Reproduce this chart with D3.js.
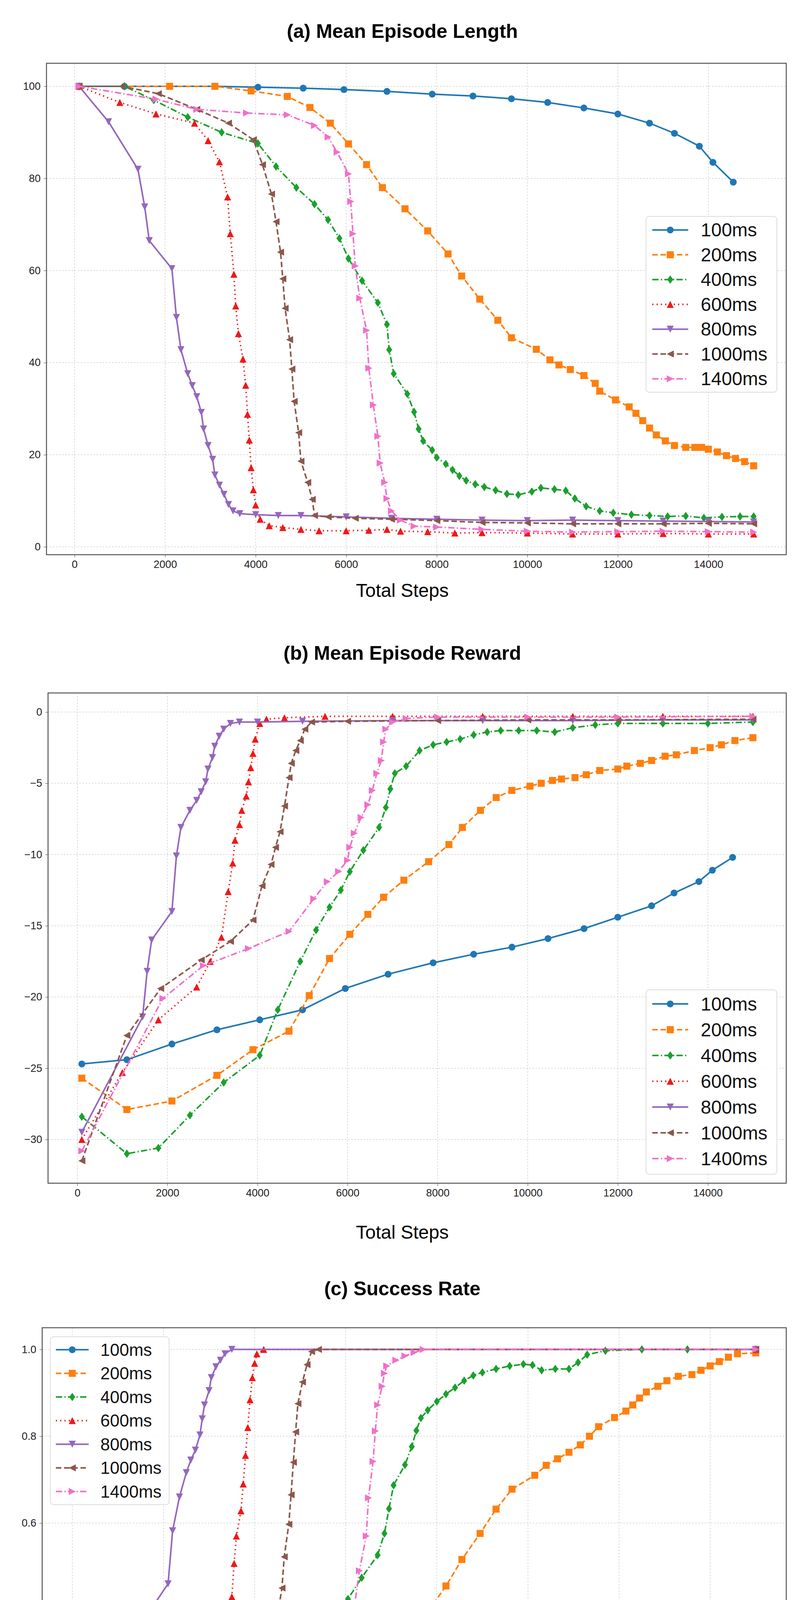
<!DOCTYPE html>
<html>
<head>
<meta charset="utf-8">
<script src="https://cdn.jsdelivr.net/npm/d3@7"></script>
<style>
  body { margin: 0; background: #fff; }
  text { font-family: "Liberation Sans", Arial, sans-serif; }
</style>
</head>
<body>
<svg id="chart" width="2061" height="4815"></svg>
<script>
// series names and styles (matplotlib-like)
var seriesNames = ["100ms", "200ms", "400ms", "600ms", "800ms", "1000ms", "1400ms"];
var seriesColors = ["#1f77b4", "#ff7f0e", "#1aa02c", "#f01818", "#9467bd", "#8c564b", "#f070c8"];
var seriesDash = [null, "14,7", "16,6,3,6", "3,8", null, "14,7", "16,6,3,6"];
var seriesMarker = ["circle", "square", "diamond", "triUp", "triDown", "triLeft", "triRight"];

// (a) Mean Episode Length  [step, value]
var len100 = [[100,100],[1100,100],[2100,100],[3100,100],[4050,99.8],[5050,99.6],[5950,99.3],[6900,98.9],[7900,98.3],[8800,97.9],[9650,97.3],[10450,96.5],[11250,95.3],[12000,94],[12700,92],[13250,89.8],[13800,87],[14100,83.5],[14550,79.2]];
var len200 = [[100,100],[2100,100],[3100,100],[3900,99],[4700,97.8],[5200,95.4],[5650,92],[6050,87.5],[6450,83],[6800,78],[7300,73.4],[7800,68.6],[8250,63.6],[8550,58.8],[8950,53.8],[9350,49.2],[9650,45.4],[10200,42.9],[10500,40.6],[10700,39.5],[10950,38.5],[11250,37.2],[11500,35.5],[11600,33.8],[11950,31.9],[12250,30.4],[12400,29],[12550,27.4],[12700,25.8],[12850,24.3],[13050,23],[13250,22],[13500,21.6],[13700,21.6],[13850,21.6],[14000,21.2],[14200,20.6],[14400,19.8],[14600,19.2],[14800,18.5],[15000,17.6]];
var len400 = [[100,100],[1100,100],[1750,97],[2500,93.3],[3250,90],[4050,87.6],[4450,82.6],[4900,78],[5300,74.4],[5600,71],[5850,67],[6050,62.6],[6350,57.8],[6700,53],[6900,48.3],[6950,42.8],[7050,37.6],[7350,33.2],[7500,29.3],[7600,25.6],[7700,23],[7900,21],[8000,19.4],[8200,18],[8350,16.7],[8500,15.4],[8650,14.4],[8850,13.6],[9050,13],[9300,12.3],[9550,11.5],[9800,11.3],[10100,12],[10300,12.8],[10600,12.5],[10850,12.2],[11050,10.5],[11300,8.8],[11600,7.8],[11900,7.4],[12300,7.0],[12700,6.8],[13100,6.6],[13500,6.7],[13900,6.3],[14300,6.5],[14700,6.6],[15000,6.6]];
var len600 = [[100,100],[1000,96.5],[1800,94],[2650,92],[2950,88.2],[3200,83.6],[3380,76],[3440,68],[3520,59.2],[3560,52.3],[3620,46.3],[3720,40.8],[3780,35.1],[3820,28.8],[3860,23.2],[3900,17.2],[3950,12.4],[4000,9.1],[4100,6],[4300,4.6],[4600,4.2],[5000,3.8],[5400,3.5],[6000,3.5],[6500,3.6],[6900,3.8],[7200,3.4],[7800,3.3],[8400,3.0],[9000,3.1],[10000,3.0],[11000,2.8],[12000,2.8],[13000,2.9],[14000,2.8],[15000,2.8]];
var len800 = [[100,100],[750,92.3],[1400,82],[1550,73.8],[1650,66.5],[2150,60.4],[2250,49.8],[2350,42.8],[2500,37.6],[2600,35],[2700,32.6],[2800,29.2],[2850,25.6],[2950,22],[3050,19],[3100,15.6],[3200,13.4],[3300,11.4],[3400,9.2],[3500,7.8],[3650,7.2],[4000,7],[4500,6.8],[5000,6.8],[6000,6.5],[7000,6.2],[8000,6],[9000,5.8],[10000,5.7],[11000,5.8],[12000,5.7],[13000,5.6],[14000,5.5],[15000,5.4]];
var len1000 = [[100,100],[1050,100],[1850,98.4],[2700,95],[3400,92],[3950,88.4],[4150,83],[4350,76.6],[4450,70.6],[4550,64],[4600,58.2],[4650,51.8],[4750,45],[4800,38.6],[4850,31.6],[4950,24.8],[5000,18.6],[5150,14],[5250,10.3],[5300,6.8],[5600,6.5],[6200,6.2],[7000,6.0],[8000,5.7],[9000,5.3],[10000,5.2],[11000,5.0],[12000,5.0],[13000,5.0],[14000,5.1],[15000,5.0]];
var len1400 = [[100,100],[1800,97.2],[2700,95],[3800,94.2],[4700,93.8],[5300,91.5],[5600,89],[5800,85.7],[6050,81],[6100,75],[6150,68],[6200,61],[6300,54],[6450,47],[6500,38.8],[6600,30.8],[6700,24],[6750,18.2],[6850,14],[6900,10.5],[7000,7.8],[7200,5.8],[7500,4.5],[8000,4.3],[9000,3.8],[10000,3.4],[11000,3.2],[12000,3.3],[13000,3.4],[14000,3.3],[15000,3.2]];

// (b) Mean Episode Reward
var rew100 = [[100,-24.7],[1100,-24.4],[2100,-23.3],[3100,-22.3],[4050,-21.6],[5000,-20.9],[5950,-19.4],[6900,-18.4],[7900,-17.6],[8800,-17],[9650,-16.5],[10450,-15.9],[11250,-15.2],[12000,-14.4],[12750,-13.6],[13250,-12.7],[13800,-11.9],[14100,-11.1],[14550,-10.2]];
var rew200 = [[100,-25.7],[1100,-27.9],[2100,-27.3],[3100,-25.5],[3900,-23.7],[4700,-22.4],[5150,-19.9],[5600,-17.3],[6050,-15.6],[6450,-14.2],[6800,-13],[7250,-11.8],[7800,-10.5],[8250,-9.3],[8550,-8.1],[8950,-6.9],[9300,-6],[9650,-5.5],[10050,-5.2],[10300,-5],[10550,-4.8],[10750,-4.7],[11050,-4.6],[11300,-4.4],[11600,-4.1],[12000,-4],[12200,-3.8],[12500,-3.6],[12750,-3.4],[13050,-3.1],[13300,-3.0],[13700,-2.7],[14050,-2.5],[14300,-2.3],[14600,-2.0],[15000,-1.8]];
var rew400 = [[100,-28.4],[1100,-31],[1800,-30.6],[2500,-28.3],[3250,-26],[4050,-24.1],[4450,-20.9],[4950,-17.5],[5300,-15.3],[5600,-13.7],[5850,-12.5],[6050,-11.2],[6350,-9.7],[6700,-8.1],[6850,-6.7],[6950,-5.4],[7050,-4.3],[7300,-3.8],[7600,-2.7],[7900,-2.3],[8200,-2.1],[8500,-1.9],[8800,-1.6],[9100,-1.4],[9400,-1.3],[9800,-1.3],[10200,-1.3],[10600,-1.4],[11000,-1.1],[11500,-0.9],[12000,-0.8],[13000,-0.8],[14000,-0.8],[15000,-0.7]];
var rew600 = [[100,-30],[1000,-25.3],[1800,-21.6],[2650,-19.3],[2950,-17.5],[3200,-15.8],[3350,-12.6],[3450,-10.6],[3500,-9],[3600,-7.9],[3650,-6.9],[3750,-5.9],[3800,-4.9],[3850,-3.9],[3900,-2.9],[3950,-1.9],[4050,-0.8],[4200,-0.5],[4600,-0.4],[5500,-0.3],[7000,-0.3],[9000,-0.3],[11000,-0.3],[13000,-0.3],[15000,-0.3]];
var rew800 = [[100,-29.5],[1450,-21.4],[1550,-18.2],[1650,-16],[2100,-14],[2200,-10.1],[2300,-8.1],[2500,-6.9],[2650,-6.2],[2750,-5.6],[2850,-4.9],[2900,-4],[3000,-3.2],[3050,-2.4],[3150,-1.7],[3250,-1.2],[3400,-0.8],[3600,-0.7],[4000,-0.7],[5000,-0.65],[7000,-0.6],[9000,-0.6],[11000,-0.6],[13000,-0.55],[15000,-0.55]];
var rew1000 = [[100,-31.5],[1100,-22.7],[1850,-19.4],[2750,-17.4],[3400,-16.1],[3900,-14.6],[4100,-12.2],[4300,-10.7],[4400,-9.5],[4500,-8.4],[4600,-6.6],[4700,-4.6],[4750,-3.6],[4850,-2.7],[4950,-2],[5050,-1.2],[5200,-0.7],[6000,-0.65],[8000,-0.6],[10000,-0.55],[12000,-0.55],[15000,-0.5]];
var rew1400 = [[100,-30.8],[1900,-20.1],[2800,-17.8],[3800,-16.6],[4700,-15.4],[5250,-13.1],[5550,-11.9],[5800,-11.2],[6000,-10.4],[6050,-9.5],[6150,-8.5],[6300,-7.4],[6450,-6.5],[6550,-5.5],[6650,-4.3],[6750,-3.4],[6800,-2.1],[6850,-1.2],[7000,-0.7],[7300,-0.45],[8000,-0.35],[10000,-0.35],[12000,-0.35],[15000,-0.3]];

// (c) Success Rate
var suc100 = [[100,0],[1100,0],[2100,0],[3100,0],[4050,0.005],[5000,0.011],[5950,0.021],[6900,0.033],[7900,0.046],[8800,0.057],[9650,0.065],[10450,0.082],[11250,0.104],[12000,0.134],[12700,0.174],[13250,0.217],[13800,0.263],[14100,0.316],[14550,0.375]];
var suc200 = [[100,0],[1100,0],[2100,0],[3100,0],[3900,0.015],[4700,0.03],[5200,0.062],[5600,0.106],[6000,0.164],[6450,0.22],[6800,0.282],[7250,0.34],[7800,0.395],[8200,0.455],[8550,0.516],[8950,0.576],[9300,0.632],[9650,0.678],[10150,0.71],[10400,0.733],[10650,0.748],[10900,0.763],[11150,0.78],[11350,0.8],[11550,0.822],[11900,0.843],[12150,0.858],[12300,0.872],[12450,0.888],[12600,0.902],[12850,0.915],[13050,0.928],[13300,0.938],[13600,0.942],[13800,0.952],[14000,0.962],[14200,0.972],[14400,0.982],[14600,0.99],[15000,0.992]];
var suc400 = [[100,0],[1100,0],[1750,0.036],[2500,0.083],[3250,0.121],[4050,0.148],[4450,0.205],[4900,0.258],[5250,0.297],[5550,0.333],[5800,0.376],[6050,0.425],[6350,0.474],[6700,0.526],[6850,0.576],[6950,0.633],[7050,0.687],[7300,0.734],[7450,0.776],[7550,0.813],[7650,0.842],[7800,0.86],[8000,0.88],[8200,0.897],[8400,0.912],[8600,0.928],[8800,0.94],[9000,0.947],[9300,0.955],[9600,0.962],[9900,0.966],[10100,0.964],[10300,0.952],[10600,0.955],[10900,0.955],[11100,0.97],[11300,0.988],[11700,0.997],[12500,1.0],[13500,1.0],[15000,1.0]];
var suc600 = [[100,0],[1000,0.039],[1800,0.064],[2600,0.085],[2950,0.124],[3200,0.173],[3350,0.253],[3450,0.338],[3500,0.43],[3550,0.507],[3600,0.57],[3700,0.628],[3750,0.69],[3800,0.756],[3850,0.82],[3900,0.884],[3950,0.935],[4000,0.968],[4050,0.99],[4200,1.0],[15000,1.0]];
var suc800 = [[100,0],[750,0.095],[1400,0.215],[1500,0.31],[1650,0.39],[2100,0.46],[2200,0.582],[2350,0.66],[2500,0.716],[2600,0.745],[2700,0.768],[2800,0.803],[2850,0.84],[2900,0.872],[3000,0.905],[3050,0.935],[3150,0.96],[3250,0.975],[3350,0.99],[3500,1.0],[15000,1.0]];
var suc1000 = [[100,0],[1100,0],[1850,0.017],[2700,0.06],[3400,0.086],[3900,0.122],[4100,0.18],[4300,0.25],[4400,0.315],[4500,0.386],[4600,0.45],[4650,0.522],[4750,0.597],[4800,0.665],[4850,0.74],[4900,0.81],[4950,0.875],[5050,0.925],[5150,0.965],[5250,0.995],[5400,1.0],[15000,1.0]];
var suc1400 = [[100,0],[1800,0.03],[2800,0.053],[3800,0.061],[4700,0.064],[5300,0.089],[5600,0.118],[5850,0.152],[6050,0.2],[6100,0.267],[6150,0.34],[6200,0.415],[6300,0.49],[6450,0.57],[6500,0.658],[6600,0.742],[6650,0.812],[6700,0.872],[6800,0.915],[6850,0.945],[6900,0.962],[7100,0.975],[7300,0.985],[7500,0.993],[7700,1.0],[15000,1.0]];

var xTicks = [0, 2000, 4000, 6000, 8000, 10000, 12000, 14000];
var lenTicks = [0, 20, 40, 60, 80, 100];
var rewTicks = [0, -5, -10, -15, -20, -25, -30];
var sucTicks = [0, 0.2, 0.4, 0.6, 0.8, 1.0];

var svg = d3.select("#chart");

function markerPath(type, s) {
  var h = s / 2;
  switch (type) {
    case "circle": return d3.symbol(d3.symbolCircle, s * s * 0.75)();
    case "square": return "M" + (-h) + "," + (-h) + "h" + s + "v" + s + "h" + (-s) + "Z";
    case "diamond": return "M0," + (-h * 1.2) + "L" + (h * 0.85) + ",0L0," + (h * 1.2) + "L" + (-h * 0.85) + ",0Z";
    case "triUp": return "M0," + (-h) + "L" + h + "," + h + "L" + (-h) + "," + h + "Z";
    case "triDown": return "M0," + h + "L" + h + "," + (-h) + "L" + (-h) + "," + (-h) + "Z";
    case "triLeft": return "M" + (-h) + ",0L" + h + "," + (-h) + "L" + h + "," + h + "Z";
    case "triRight": return "M" + h + ",0L" + (-h) + "," + (-h) + "L" + (-h) + "," + h + "Z";
  }
}

function drawPanel(cfg) {
  var x = d3.scaleLinear().domain(cfg.xDomain).range([cfg.left, cfg.right]);
  var y = d3.scaleLinear().domain(cfg.yDomain).range([cfg.bottom, cfg.top]);
  var g = svg.append("g");

  g.append("text").attr("x", 1030).attr("y", cfg.titleY)
    .attr("text-anchor", "middle").attr("dominant-baseline", "middle")
    .attr("font-size", 50).attr("font-weight", "bold").text(cfg.title);

  // grid
  g.selectAll(".gx").data(xTicks).enter().append("line")
    .attr("x1", d => x(d)).attr("x2", d => x(d)).attr("y1", cfg.top).attr("y2", cfg.bottom)
    .attr("stroke", "#cfcfcf").attr("stroke-width", 1.5).attr("stroke-dasharray", "4,4");
  g.selectAll(".gy").data(cfg.yTicks).enter().append("line")
    .attr("y1", d => y(d)).attr("y2", d => y(d)).attr("x1", cfg.left).attr("x2", cfg.right)
    .attr("stroke", "#cfcfcf").attr("stroke-width", 1.5).attr("stroke-dasharray", "4,4");

  // axes
  g.append("g").attr("transform", "translate(0," + cfg.bottom + ")")
    .call(d3.axisBottom(x).tickValues(xTicks).tickSize(7).tickPadding(8).tickFormat(d3.format("d")))
    .call(a => a.select(".domain").remove())
    .call(a => a.selectAll("text").attr("font-size", 27).attr("fill", "#222"))
    .call(a => a.selectAll("line").attr("stroke", "#444"));
  g.append("g").attr("transform", "translate(" + cfg.left + ",0)")
    .call(d3.axisLeft(y).tickValues(cfg.yTicks).tickSize(7).tickPadding(8).tickFormat(cfg.yFormat))
    .call(a => a.select(".domain").remove())
    .call(a => a.selectAll("text").attr("font-size", 27).attr("fill", "#222"))
    .call(a => a.selectAll("line").attr("stroke", "#444"));

  g.append("rect").attr("x", cfg.left).attr("y", cfg.top)
    .attr("width", cfg.right - cfg.left).attr("height", cfg.bottom - cfg.top)
    .attr("fill", "none").attr("stroke", "#555").attr("stroke-width", 2.5);

  var line = d3.line().x(d => x(d[0])).y(d => y(d[1]));
  cfg.series.forEach(function (data, i) {
    var sg = g.append("g");
    sg.append("path").datum(data).attr("d", line).attr("fill", "none")
      .attr("stroke", seriesColors[i]).attr("stroke-width", 4)
      .attr("stroke-dasharray", seriesDash[i]);
    sg.selectAll("path.m").data(data).enter().append("path").attr("class", "m")
      .attr("transform", d => "translate(" + x(d[0]) + "," + y(d[1]) + ")")
      .attr("d", markerPath(seriesMarker[i], 18)).attr("fill", seriesColors[i]);
  });

  g.append("text").attr("x", 1030).attr("y", cfg.xLabelY)
    .attr("text-anchor", "middle").attr("dominant-baseline", "middle")
    .attr("font-size", 48).text("Total Steps");

  // legend
  var L = cfg.legend;
  g.append("rect").attr("x", L.x).attr("y", L.y).attr("width", L.w).attr("height", L.h)
    .attr("rx", 8).attr("fill", "rgba(255,255,255,0.85)").attr("stroke", "#dcdcdc").attr("stroke-width", 2);
  seriesNames.forEach(function (name, i) {
    var cy = L.y + L.pad + L.row * (i + 0.5);
    var lg = g.append("g");
    lg.append("line").attr("x1", L.x + L.lx0).attr("x2", L.x + L.lx1).attr("y1", cy).attr("y2", cy)
      .attr("stroke", seriesColors[i]).attr("stroke-width", 4).attr("stroke-dasharray", seriesDash[i]);
    lg.append("path").attr("transform", "translate(" + (L.x + (L.lx0 + L.lx1) / 2) + "," + cy + ")")
      .attr("d", markerPath(seriesMarker[i], 18)).attr("fill", seriesColors[i]);
    lg.append("text").attr("x", L.x + L.tx).attr("y", cy).attr("dominant-baseline", "central")
      .attr("font-size", L.fs).attr("fill", "#111").text(name);
  });
}

drawPanel({
  title: "(a) Mean Episode Length", titleY: 84, xLabelY: 1515,
  left: 119, right: 2013, top: 162, bottom: 1420,
  xDomain: [-620, 15720], yDomain: [-1.7, 105.0],
  yTicks: lenTicks, yFormat: d3.format("d"),
  series: [len100, len200, len400, len600, len800, len1000, len1400],
  legend: { x: 1654, y: 554, w: 335, h: 450, pad: 3, row: 63.5, lx0: 16, lx1: 108, tx: 140, fs: 48 }
});

drawPanel({
  title: "(b) Mean Episode Reward", titleY: 1676, xLabelY: 3158,
  left: 123, right: 2013, top: 1774, bottom: 3029,
  xDomain: [-650, 15740], yDomain: [-33.07, 1.34],
  yTicks: rewTicks, yFormat: d3.format("d"),
  series: [rew100, rew200, rew400, rew600, rew800, rew1000, rew1400],
  legend: { x: 1654, y: 2534, w: 335, h: 472, pad: 3, row: 66, lx0: 16, lx1: 108, tx: 140, fs: 48 }
});

drawPanel({
  title: "(c) Success Rate", titleY: 3303, xLabelY: 4767,
  left: 108, right: 2013, top: 3399, bottom: 4620,
  xDomain: [-663, 15670], yDomain: [-0.049, 1.05],
  yTicks: sucTicks, yFormat: d3.format(".1f"),
  series: [suc100, suc200, suc400, suc600, suc800, suc1000, suc1400],
  legend: { x: 129, y: 3422, w: 304, h: 430, pad: 3, row: 60.5, lx0: 14, lx1: 98, tx: 128, fs: 44 }
});
</script>
</body>
</html>
